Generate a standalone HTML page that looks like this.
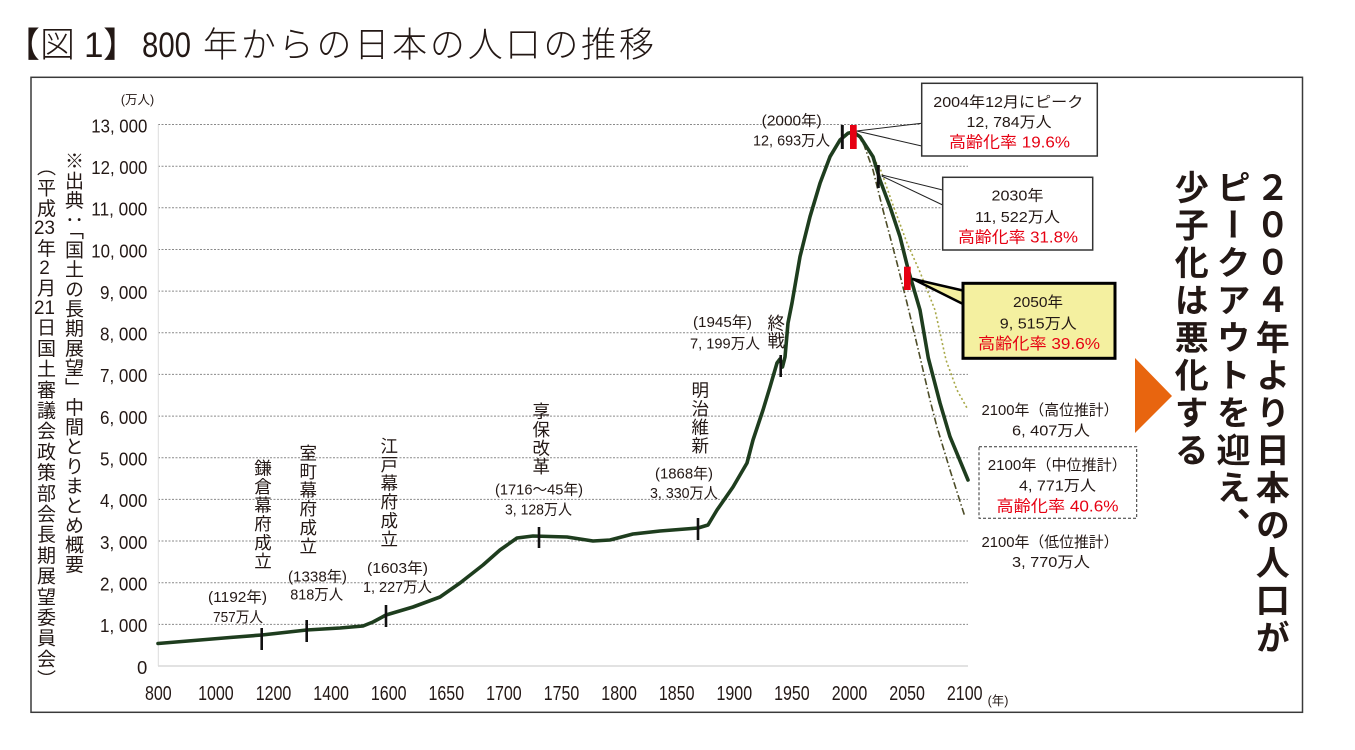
<!DOCTYPE html>
<html lang="ja">
<head>
<meta charset="utf-8">
<style>
  html,body{margin:0;padding:0;background:#fff;}
  body{width:1355px;height:750px;position:relative;overflow:hidden;}
  svg{position:absolute;left:0;top:0;}
  .v{position:absolute;writing-mode:vertical-rl;font-family:"Liberation Sans","Noto Sans CJK JP",sans-serif;color:#231815;white-space:nowrap;}
  .tcy{text-combine-upright:all;}
  .ann{font-size:17.5px;line-height:17.5px;width:17.5px;letter-spacing:1.1px;}
  .src{font-size:19px;line-height:19px;width:19px;}
  .big{font-size:34px;line-height:34px;width:34px;letter-spacing:3.5px;font-weight:bold;color:#231815;}
</style>
</head>
<body>
<svg width="1355" height="750" viewBox="0 0 1355 750" xmlns="http://www.w3.org/2000/svg">
  <!-- Title -->
  <g font-family="'Liberation Sans','Noto Sans CJK JP',sans-serif" font-size="35" fill="#231815" font-weight="300">
    <text x="5" y="57">【</text>
    <text x="40" y="57">図</text>
    <text x="84" y="57">1</text>
    <text x="103" y="57">】</text>
    <text x="142" y="57" textLength="49" lengthAdjust="spacingAndGlyphs">800</text>
    <text x="203" y="57" textLength="451" lengthAdjust="spacing">年からの日本の人口の推移</text>
  </g>

  <!-- Chart frame -->
  <rect x="31" y="77.3" width="1271.5" height="635" fill="none" stroke="#3a3a3a" stroke-width="1.5"/>

  <!-- Gridlines -->
  <g stroke="#8a8a8a" stroke-width="1" stroke-dasharray="2,1.5">
    <line x1="158" y1="624.35" x2="968" y2="624.35"/>
    <line x1="158" y1="582.7" x2="968" y2="582.7"/>
    <line x1="158" y1="541.0" x2="968" y2="541.0"/>
    <line x1="158" y1="499.4" x2="968" y2="499.4"/>
    <line x1="158" y1="457.7" x2="968" y2="457.7"/>
    <line x1="158" y1="416.1" x2="968" y2="416.1"/>
    <line x1="158" y1="374.4" x2="968" y2="374.4"/>
    <line x1="158" y1="332.8" x2="968" y2="332.8"/>
    <line x1="158" y1="291.1" x2="968" y2="291.1"/>
    <line x1="158" y1="249.5" x2="968" y2="249.5"/>
    <line x1="158" y1="207.8" x2="968" y2="207.8"/>
    <line x1="158" y1="166.2" x2="968" y2="166.2"/>
    <line x1="158" y1="124.5" x2="968" y2="124.5"/>
  </g>
  <line x1="158" y1="666" x2="968" y2="666" stroke="#d0d0d0" stroke-width="1.2"/>
  <line x1="158.3" y1="124.5" x2="158.3" y2="666" stroke="#dcdcdc" stroke-width="1"/>

  <!-- Y labels -->
  <g font-family="'Liberation Sans','Noto Sans CJK JP',sans-serif" font-size="18.5" fill="#231815" text-anchor="end">
    <text x="147.3" y="132.3" textLength="56" lengthAdjust="spacingAndGlyphs">13, 000</text>
    <text x="147.3" y="174.0" textLength="56" lengthAdjust="spacingAndGlyphs">12, 000</text>
    <text x="147.3" y="215.6" textLength="56" lengthAdjust="spacingAndGlyphs">11, 000</text>
    <text x="147.3" y="257.3" textLength="56" lengthAdjust="spacingAndGlyphs">10, 000</text>
    <text x="147.3" y="298.9" textLength="47.3" lengthAdjust="spacingAndGlyphs">9, 000</text>
    <text x="147.3" y="340.6" textLength="47.3" lengthAdjust="spacingAndGlyphs">8, 000</text>
    <text x="147.3" y="382.2" textLength="47.3" lengthAdjust="spacingAndGlyphs">7, 000</text>
    <text x="147.3" y="423.9" textLength="47.3" lengthAdjust="spacingAndGlyphs">6, 000</text>
    <text x="147.3" y="465.5" textLength="47.3" lengthAdjust="spacingAndGlyphs">5, 000</text>
    <text x="147.3" y="507.2" textLength="47.3" lengthAdjust="spacingAndGlyphs">4, 000</text>
    <text x="147.3" y="548.8" textLength="47.3" lengthAdjust="spacingAndGlyphs">3, 000</text>
    <text x="147.3" y="590.5" textLength="47.3" lengthAdjust="spacingAndGlyphs">2, 000</text>
    <text x="147.3" y="632.1" textLength="47.3" lengthAdjust="spacingAndGlyphs">1, 000</text>
    <text x="147.3" y="673.8">0</text>
  </g>
  <text x="137.5" y="103.8" font-family="'Liberation Sans','Noto Sans CJK JP',sans-serif" font-size="12.5" fill="#231815" text-anchor="middle">(万人)</text>

  <!-- X labels -->
  <g font-family="'Liberation Sans','Noto Sans CJK JP',sans-serif" font-size="20" fill="#231815" text-anchor="middle">
    <text x="158.3" y="700" textLength="26.7" lengthAdjust="spacingAndGlyphs">800</text>
    <text x="215.9" y="700" textLength="35.6" lengthAdjust="spacingAndGlyphs">1000</text>
    <text x="273.5" y="700" textLength="35.6" lengthAdjust="spacingAndGlyphs">1200</text>
    <text x="331.1" y="700" textLength="35.6" lengthAdjust="spacingAndGlyphs">1400</text>
    <text x="388.7" y="700" textLength="35.6" lengthAdjust="spacingAndGlyphs">1600</text>
    <text x="446.3" y="700" textLength="35.6" lengthAdjust="spacingAndGlyphs">1650</text>
    <text x="503.9" y="700" textLength="35.6" lengthAdjust="spacingAndGlyphs">1700</text>
    <text x="561.5" y="700" textLength="35.6" lengthAdjust="spacingAndGlyphs">1750</text>
    <text x="619.1" y="700" textLength="35.6" lengthAdjust="spacingAndGlyphs">1800</text>
    <text x="676.7" y="700" textLength="35.6" lengthAdjust="spacingAndGlyphs">1850</text>
    <text x="734.3" y="700" textLength="35.6" lengthAdjust="spacingAndGlyphs">1900</text>
    <text x="791.9" y="700" textLength="35.6" lengthAdjust="spacingAndGlyphs">1950</text>
    <text x="849.5" y="700" textLength="35.6" lengthAdjust="spacingAndGlyphs">2000</text>
    <text x="907.1" y="700" textLength="35.6" lengthAdjust="spacingAndGlyphs">2050</text>
    <text x="964.7" y="700" textLength="35.6" lengthAdjust="spacingAndGlyphs">2100</text>
  </g>
  <text x="998" y="705" font-family="'Liberation Sans','Noto Sans CJK JP',sans-serif" font-size="12.5" fill="#231815" text-anchor="middle">(年)</text>

  <!-- Projection lines -->
  <polyline fill="none" stroke="#a8a848" stroke-width="1.6" stroke-dasharray="2,2.5"
    points="856,132 866,148 880,168 893,205 907,243 920,272 935,310 946,360 957,390 967,408"/>
  <polyline fill="none" stroke="#4d4d28" stroke-width="1.6" stroke-dasharray="7,2.5,1.5,2.5"
    points="856,132 864,145 873,170 883,210 897,263 907,303 920,357 930,400 937,427 950,470 965,517"/>

  <!-- Main population curve -->
  <polyline fill="none" stroke="#1e3d1e" stroke-width="3.6" stroke-linejoin="round" stroke-linecap="round"
    points="158,643.5 200,640 230,637.5 261.7,635 306.7,630 340,628 363,626 373,622 386,615 413,607 440,597 460,583 483,565 500,550 517,538 533,536 550,536.5 567,537 593,541 610,540 633,534 660,531 698,528 708,525 717,510 733,487 747,463 753,440 763,410 770,387 777,363 780,359 782.5,367 785,357 788,323 792,303 800,256.7 810,216.7 820,183.3 830,156.7 840,140 848,133.3 853,132 860,136.7 873,156.7 880,180 890,206.7 900,236.7 908.3,270 920,310 928.3,358 940,403 950,436.7 968,480"/>

  <!-- Markers -->
  <g stroke="#111" stroke-width="2.6">
    <line x1="261.7" y1="628" x2="261.7" y2="650"/>
    <line x1="306.7" y1="620" x2="306.7" y2="642"/>
    <line x1="386" y1="605" x2="386" y2="627"/>
    <line x1="539" y1="527" x2="539" y2="548"/>
    <line x1="698" y1="518" x2="698" y2="540"/>
    <line x1="780.7" y1="355" x2="780.7" y2="377"/>
    <line x1="842.3" y1="125" x2="842.3" y2="149" stroke-width="3"/>
    <line x1="878.3" y1="165" x2="878.3" y2="188" stroke-width="3"/>
  </g>
  <rect x="850" y="125" width="6.7" height="24" fill="#e60012"/>
  <rect x="904" y="266.7" width="6.7" height="23.3" fill="#e60012"/>

  <!-- Callout lines -->
  <g stroke="#222" stroke-width="1">
    <line x1="856.7" y1="131" x2="921.7" y2="123.3"/>
    <line x1="856.7" y1="131" x2="921.7" y2="146"/>
    <line x1="881.7" y1="175" x2="942.7" y2="190"/>
    <line x1="881.7" y1="176" x2="942.7" y2="205"/>
  </g>
  <polygon points="913,279 965,291 965,305" fill="#f4f0a0" stroke="#000" stroke-width="2.5" stroke-linejoin="round"/>

  <!-- Callout boxes -->
  <rect x="921.7" y="83.3" width="175.6" height="72.7" fill="#fff" stroke="#333" stroke-width="1.5"/>
  <rect x="942.7" y="177.3" width="150" height="72.7" fill="#fff" stroke="#333" stroke-width="1.5"/>
  <rect x="963" y="283.3" width="152" height="75" fill="#f4f0a0" stroke="#000" stroke-width="3"/>
  <rect x="979" y="446.7" width="157.7" height="71.6" fill="#fff" stroke="#333" stroke-width="1" stroke-dasharray="3,2"/>

  <!-- Annotation texts -->
  <g font-family="'Liberation Sans','Noto Sans CJK JP',sans-serif" font-size="15" fill="#231815" text-anchor="middle">
    <text x="237.5" y="602.2" textLength="59" lengthAdjust="spacingAndGlyphs">(1192年)</text>
    <text x="238" y="622.2" textLength="50" lengthAdjust="spacingAndGlyphs">757万人</text>
    <text x="317.5" y="581.5" textLength="59" lengthAdjust="spacingAndGlyphs">(1338年)</text>
    <text x="316.7" y="599.5" textLength="53" lengthAdjust="spacingAndGlyphs">818万人</text>
    <text x="397.5" y="573.2" textLength="61" lengthAdjust="spacingAndGlyphs">(1603年)</text>
    <text x="397.5" y="592.2" textLength="69" lengthAdjust="spacingAndGlyphs">1, 227万人</text>
    <text x="539" y="494.5" textLength="88" lengthAdjust="spacingAndGlyphs">(1716〜45年)</text>
    <text x="538.5" y="514.5" textLength="67" lengthAdjust="spacingAndGlyphs">3, 128万人</text>
    <text x="684" y="478.5" textLength="58" lengthAdjust="spacingAndGlyphs">(1868年)</text>
    <text x="684" y="498.2" textLength="68" lengthAdjust="spacingAndGlyphs">3, 330万人</text>
    <text x="722.5" y="327.2" textLength="59" lengthAdjust="spacingAndGlyphs">(1945年)</text>
    <text x="725" y="348.5" textLength="70" lengthAdjust="spacingAndGlyphs">7, 199万人</text>
    <text x="791.7" y="125.5" textLength="60" lengthAdjust="spacingAndGlyphs">(2000年)</text>
    <text x="791.5" y="145.5" textLength="77" lengthAdjust="spacingAndGlyphs">12, 693万人</text>

    <text x="1008.3" y="107.2" textLength="150" lengthAdjust="spacingAndGlyphs">2004年12月にピーク</text>
    <text x="1009" y="127.2" textLength="85" lengthAdjust="spacingAndGlyphs">12, 784万人</text>
    <text x="1017.5" y="200.5" textLength="52" lengthAdjust="spacingAndGlyphs">2030年</text>
    <text x="1017.5" y="222.2" textLength="85" lengthAdjust="spacingAndGlyphs">11, 522万人</text>
    <text x="1038" y="307.2" textLength="50" lengthAdjust="spacingAndGlyphs">2050年</text>
    <text x="1038.3" y="328.5" textLength="77" lengthAdjust="spacingAndGlyphs">9, 515万人</text>

    <text x="1050" y="414.8" textLength="137" lengthAdjust="spacingAndGlyphs">2100年（高位推計）</text>
    <text x="1051" y="435.5" textLength="78" lengthAdjust="spacingAndGlyphs">6, 407万人</text>
    <text x="1057.3" y="469.8" textLength="139" lengthAdjust="spacingAndGlyphs">2100年（中位推計）</text>
    <text x="1057.5" y="490.5" textLength="77" lengthAdjust="spacingAndGlyphs">4, 771万人</text>
    <text x="1050" y="547.2" textLength="137" lengthAdjust="spacingAndGlyphs">2100年（低位推計）</text>
    <text x="1051" y="567.2" textLength="78" lengthAdjust="spacingAndGlyphs">3, 770万人</text>
  </g>
  <g font-family="'Liberation Sans','Noto Sans CJK JP',sans-serif" font-size="16" fill="#e60012" text-anchor="middle">
    <text x="1009.5" y="147.6" textLength="121" lengthAdjust="spacingAndGlyphs">高齢化率 19.6%</text>
    <text x="1018" y="242.6" textLength="120" lengthAdjust="spacingAndGlyphs">高齢化率 31.8%</text>
    <text x="1039" y="349.2" textLength="122" lengthAdjust="spacingAndGlyphs">高齢化率 39.6%</text>
    <text x="1057.5" y="511.6" textLength="122" lengthAdjust="spacingAndGlyphs">高齢化率 40.6%</text>
  </g>

  <!-- Orange arrow -->
  <polygon points="1135,358 1135,433 1172,396" fill="#e8650f"/>
</svg>

<!-- Vertical annotation labels -->
<div class="v ann" style="left:253px;top:459px;">鎌倉幕府成立</div>
<div class="v ann" style="left:298.3px;top:444px;">室町幕府成立</div>
<div class="v ann" style="left:379.3px;top:437px;">江戸幕府成立</div>
<div class="v ann" style="left:531.3px;top:402px;">享保改革</div>
<div class="v ann" style="left:690.3px;top:381px;">明治維新</div>
<div class="v ann" style="left:766.3px;top:314px;letter-spacing:0;">終戦</div>

<!-- Source notes (left) -->
<div class="v src" style="left:35px;top:157px;letter-spacing:1.7px;">（平成<span class="tcy">23</span>年<span class="tcy">2</span>月<span class="tcy">21</span>日国土審議会政策部会長期展望委員会）</div>
<div class="v src" style="left:63px;top:151px;letter-spacing:0.66px;">※出典：「国土の長期展望」中間とりまとめ概要</div>

<!-- Right big message -->
<div class="v big" style="left:1252.3px;top:170px;">２００４年より日本の人口が</div>
<div class="v big" style="left:1213px;top:170px;">ピークアウトを迎え、</div>
<div class="v big" style="left:1171.3px;top:170px;">少子化は悪化する</div>
</body>
</html>
